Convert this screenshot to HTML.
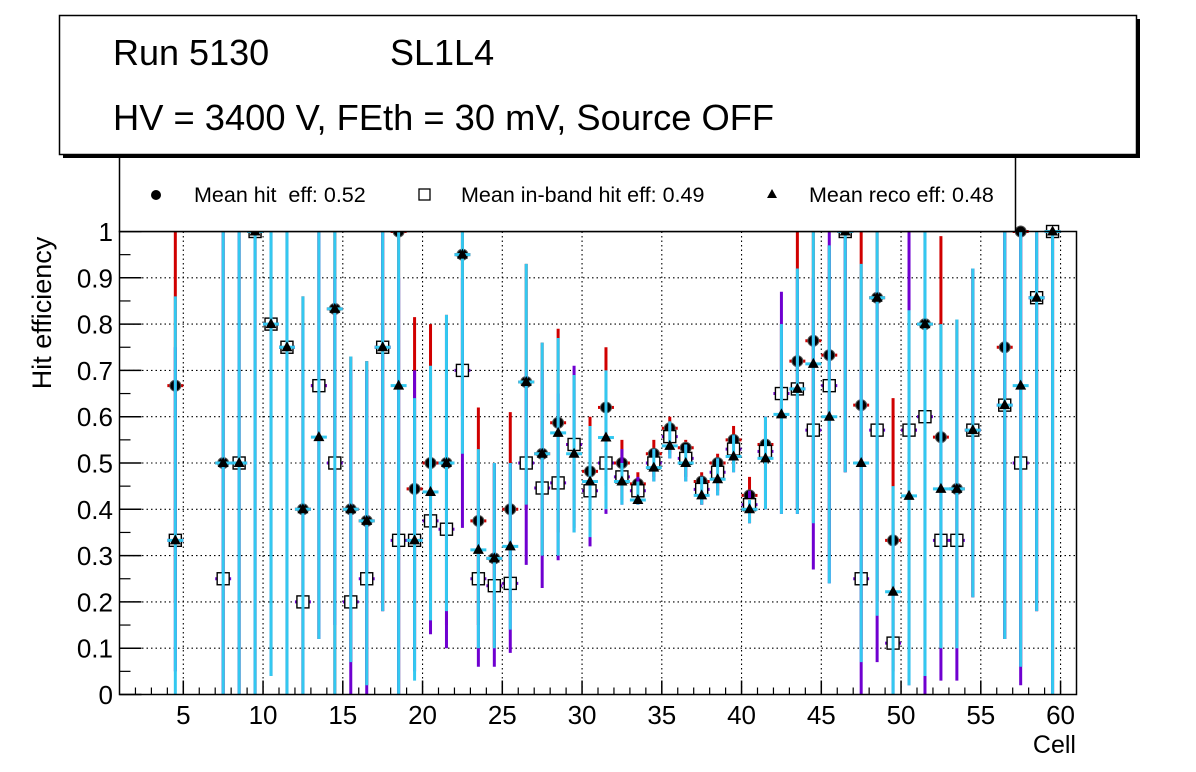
<!DOCTYPE html>
<html><head><meta charset="utf-8"><style>
body{margin:0;background:#fff;}
svg{display:block;font-family:"Liberation Sans",Arial,sans-serif;}
</style></head><body>
<svg id="c" width="1196" height="772" viewBox="0 0 1196 772">
<rect x="0" y="0" width="1196" height="772" fill="#fff"/>
<g id="grid"></g>
<g id="marks"></g>
<rect x="119.5" y="231.5" width="957" height="463" fill="none" stroke="#000" stroke-width="1.5"/>
<g id="axes"></g>
<text x="51" y="313" font-size="27" text-anchor="middle" transform="rotate(-90 51 313)">Hit efficiency</text>
<text x="1076" y="753" font-size="25" text-anchor="end">Cell</text>
<g>
<rect x="119.5" y="150" width="896" height="81.5" fill="#fff" stroke="#000" stroke-width="1.5"/>
<circle cx="156" cy="195" r="5" fill="#000"/>
<text x="194" y="202" font-size="21.5" xml:space="preserve" style="white-space:pre">Mean hit  eff: 0.52</text>
<rect x="419" y="189" width="11" height="11" fill="#fff" stroke="#000" stroke-width="1.3"/>
<text x="461" y="202" font-size="21.5">Mean in-band hit eff: 0.49</text>
<polygon points="772,189 777,198 767,198" fill="#000"/>
<text x="809" y="202" font-size="21.5">Mean reco eff: 0.48</text>
</g>
<g>
<rect x="63" y="19" width="1077" height="139" fill="#000"/>
<rect x="59.5" y="15.5" width="1077" height="139" fill="#fff" stroke="#000" stroke-width="1.5"/>
<text x="113" y="65" font-size="36">Run 5130</text>
<text x="390" y="65" font-size="36">SL1L4</text>
<text x="113" y="130" font-size="36.3">HV = 3400 V, FEth = 30 mV, Source OFF</text>
</g>
</svg>
<script>
const cells=[4.5,7.5,8.5,9.5,10.5,11.5,12.5,13.5,14.5,15.5,16.5,17.5,18.5,19.5,20.5,21.5,22.5,23.5,24.5,25.5,26.5,27.5,28.5,29.5,30.5,31.5,32.5,33.5,34.5,35.5,36.5,37.5,38.5,39.5,40.5,41.5,42.5,43.5,44.5,45.5,46.5,47.5,48.5,49.5,50.5,51.5,52.5,53.5,54.5,56.5,57.5,58.5,59.5];
const hitEff=[0.667,0.5,0.5,1,0.8,0.75,0.4,0.667,0.833,0.4,0.375,0.75,1,0.444,0.5,0.5,0.95,0.375,0.294,0.4,0.675,0.52,0.587,0.54,0.482,0.62,0.5,0.455,0.52,0.575,0.533,0.46,0.5,0.55,0.43,0.54,0.65,0.72,0.764,0.733,1,0.625,0.857,0.333,0.571,0.8,0.556,0.444,0.571,0.75,1,0.857,1];
const hitLo=[0.2,0,0,0,0.04,0,0,0.12,0,0.07,0.02,0.18,0,0.1,0.2,0.15,0.6,0.15,0.1,0.2,0.4,0.3,0.35,0.36,0.35,0.45,0.42,0.42,0.47,0.52,0.47,0.41,0.44,0.49,0.37,0.42,0.42,0.4,0.4,0.3,0.48,0.1,0.2,0.05,0.1,0.04,0.1,0.1,0.21,0.12,0.06,0.18,0];
const hitHi=[1,1,1,1,1,1,0.86,1,1,0.73,0.72,1,1,0.815,0.8,0.82,1,0.62,0.5,0.61,0.93,0.76,0.79,0.69,0.6,0.75,0.55,0.48,0.55,0.6,0.55,0.48,0.52,0.58,0.47,0.6,0.8,1,1,0.97,1,1,1,0.64,0.83,1,0.99,0.81,0.92,1,1,1,1];
const inbandEff=[0.333,0.25,0.5,1,0.8,0.75,0.2,0.667,0.5,0.2,0.25,0.75,0.333,0.333,0.375,0.357,0.7,0.25,0.235,0.24,0.5,0.446,0.457,0.54,0.44,0.5,0.47,0.44,0.5,0.557,0.51,0.443,0.48,0.53,0.41,0.525,0.65,0.66,0.571,0.667,1,0.25,0.571,0.111,0.571,0.6,0.333,0.333,0.571,0.625,0.5,0.857,1];
const inbandLo=[0.05,0,0,0,0.04,0,0,0.12,0.15,0,0,0.18,0,0.05,0.13,0.1,0.36,0.06,0.06,0.09,0.28,0.23,0.29,0.35,0.32,0.39,0.41,0.41,0.46,0.51,0.46,0.41,0.43,0.48,0.37,0.4,0.39,0.39,0.27,0.24,0.48,0,0.07,0,0.02,0,0.03,0.03,0.21,0.12,0.02,0.18,0];
const inbandHi=[0.75,1,1,1,1,1,0.8,1,0.9,0.7,0.7,1,0.9,0.7,0.7,0.8,0.9,0.5,0.5,0.5,0.7,0.7,0.65,0.71,0.55,0.6,0.53,0.47,0.53,0.58,0.54,0.47,0.51,0.56,0.44,0.6,0.87,0.9,0.9,1,1,0.7,0.9,0.4,1,1,0.7,0.7,0.92,1,1,1,1];
const recoEff=[0.333,0.5,0.5,1,0.8,0.75,0.4,0.556,0.833,0.4,0.375,0.75,0.667,0.333,0.4375,0.5,0.95,0.3125,0.294,0.32,0.675,0.52,0.565,0.52,0.46,0.555,0.46,0.42,0.49,0.537,0.5,0.43,0.465,0.514,0.4,0.51,0.605,0.66,0.714,0.6,1,0.5,0.857,0.222,0.429,0.8,0.444,0.444,0.571,0.625,0.667,0.857,1];
const recoLo=[0,0,0,0,0.04,0,0,0.12,0,0.07,0.02,0.18,0,0.03,0.16,0.18,0.52,0.1,0.1,0.14,0.41,0.3,0.3,0.35,0.34,0.4,0.41,0.41,0.46,0.51,0.46,0.41,0.43,0.48,0.37,0.4,0.39,0.39,0.37,0.24,0.48,0.07,0.17,0,0.02,0.04,0.1,0.1,0.21,0.12,0.06,0.18,0];
const recoHi=[0.86,1,1,1,1,1,0.86,1,1,0.73,0.72,1,1,0.64,0.71,0.82,1,0.53,0.5,0.5,0.93,0.76,0.77,0.69,0.58,0.7,0.5,0.46,0.53,0.59,0.54,0.47,0.51,0.56,0.42,0.6,0.8,0.92,1,0.97,1,0.93,1,0.45,0.83,1,0.8,0.81,0.92,1,1,1,1];
const xTicks=[5,10,15,20,25,30,35,40,45,50,55,60];
const yTicks=[0,0.1,0.2,0.3,0.4,0.5,0.6,0.7,0.8,0.9,1];
const yTickLabels=["0","0.1","0.2","0.3","0.4","0.5","0.6","0.7","0.8","0.9","1"];

const X0=119.5,X1=1076.5,Y0=694.5,Y1=231.5;
function xs(c){return X0+(c-1)/(61-1)*(X1-X0);}
function ys(v){return Y0-v*(Y0-Y1);}
const NS="http://www.w3.org/2000/svg";
function mk(tag,attrs,parent){const e=document.createElementNS(NS,tag);for(const k in attrs)e.setAttribute(k,attrs[k]);parent.appendChild(e);return e;}
const grid=document.getElementById('grid'),axes=document.getElementById('axes'),marks=document.getElementById('marks');
xTicks.forEach((t,i)=>{
  const g=mk('line',{x1:xs(t),x2:xs(t),y1:Y1,y2:Y0,stroke:'#000','stroke-width':1.1,'stroke-dasharray':'1.5 3'},grid);
  
  
  const tk=mk('line',{x1:xs(t),x2:xs(t),y1:Y0,y2:Y0-14,stroke:'#000','stroke-width':1.5},axes);
  
  
  const lb=mk('text',{x:xs(t),y:724,'font-size':26,'text-anchor':'middle'},axes);
  lb.textContent=String(t);
  
  
});
for(let c=2;c<=60;c++){if(c%5===0)continue;
  const m=mk('line',{x1:xs(c),x2:xs(c),y1:Y0,y2:Y0-7,stroke:'#000','stroke-width':1.2},axes);
  
  
}
yTicks.forEach((t,i)=>{
  if(t>0&&t<1){const g=mk('line',{x1:X0,x2:X1,y1:ys(t),y2:ys(t),stroke:'#000','stroke-width':1.1,'stroke-dasharray':'1.5 3'},grid);
  
  }
  const tk=mk('line',{x1:X0,x2:X0+22,y1:ys(t),y2:ys(t),stroke:'#000','stroke-width':1.5},axes);
  
  
  const lb=mk('text',{x:113,y:ys(t)+9.5,'font-size':26,'text-anchor':'end'},axes);
  lb.textContent=yTickLabels[i];
  
  
});
for(let k=1;k<20;k+=2){const v=k*0.05;
  const m=mk('line',{x1:X0,x2:X0+11,y1:ys(v),y2:ys(v),stroke:'#000','stroke-width':1.2},axes);
  
  
}
function series(vals,lo,hi,color,kind,name){
  const g=mk('g',{},marks);
  
  
  cells.forEach((c,i)=>{
    const x=xs(c),y=ys(vals[i]);
    const v=mk('line',{x1:x,x2:x,y1:ys(hi[i]),y2:ys(lo[i]),stroke:color,'stroke-width':3},g);
    
    
    const h=mk('line',{x1:xs(c-0.5),x2:xs(c+0.5),y1:y,y2:y,stroke:color,'stroke-width':3},g);
    
    
    let p;
    if(kind==='circle')p=mk('circle',{cx:x,cy:y,r:5.5,fill:'#000',stroke:'#555','stroke-width':1},g);
    else if(kind==='square')p=mk('rect',{x:x-6,y:y-6,width:12,height:12,fill:'#fff',stroke:'#000','stroke-width':1.4},g);
    else p=mk('polygon',{points:`${x},${y-6} ${x+5.5},${y+4} ${x-5.5},${y+4}`,fill:'#000'},g);
    
    
  });
}
series(hitEff,hitLo,hitHi,'#d00000','circle','hit-eff');
series(inbandEff,inbandLo,inbandHi,'#6f00d0','square','inband-eff');
series(recoEff,recoLo,recoHi,'#33c8f0','triangle','reco-eff');
</script>
</body></html>
